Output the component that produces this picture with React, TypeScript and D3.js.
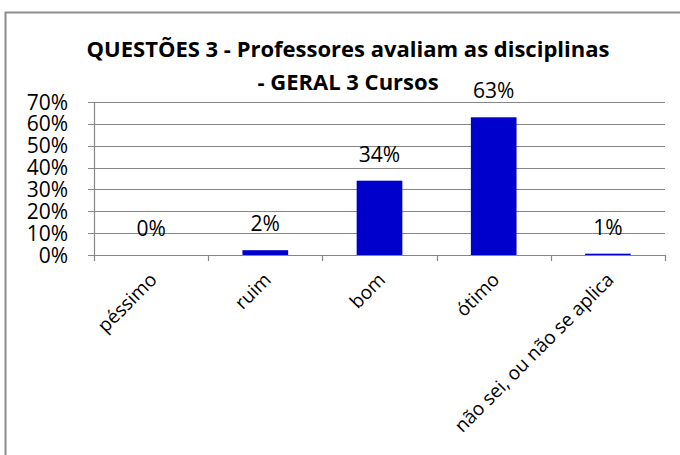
import React, { useEffect, useRef } from 'react';
import * as d3 from 'd3';

const categories = ['péssimo', 'ruim', 'bom', 'ótimo', 'não sei, ou não se aplica'];
const values = [0.0, 0.022, 0.34, 0.63, 0.006];
const yTicks = [0, 0.1, 0.2, 0.3, 0.4, 0.5, 0.6, 0.7];
const titleLines = ['QUESTÕES 3 - Professores avaliam as disciplinas', '- GERAL 3 Cursos'];

const App = () => {
  const ref = useRef<SVGSVGElement>(null);

  useEffect(() => {
    document.body.style.margin = '0';
    const svg = d3.select(ref.current);
    svg.selectAll('*').remove();

    const font = '"Open Sans", "Noto Sans", sans-serif';
    const left = 94, right = 665, top = 102, bottom = 255;

    const x = d3.scaleBand<string>().domain(categories).range([left, right]).padding(0);
    const y = d3.scaleLinear().domain([0, 0.7]).range([bottom, top]);
    const barW = x.step() * 0.4;

    // outer frame (runs off the right and bottom edges)
    svg.append('rect')
      .attr('x', 5.5).attr('y', 12.5)
      .attr('width', 720).attr('height', 500)
      .attr('fill', '#fff')
      .attr('stroke', '#8c8c8c')
      .attr('stroke-width', 2);

    // title
    svg.append('g')
      .selectAll('text')
      .data(titleLines)
      .join('text')
        .attr('x', 348)
        .attr('y', (d, i) => 57 + i * 33)
        .attr('text-anchor', 'middle')
        .style('font', `bold 22px ${font}`)
        .attr('fill', '#000')
        .text(d => d);

    // gridlines + y ticks
    svg.append('g')
      .selectAll('line')
      .data(yTicks)
      .join('line')
        .attr('x1', left - 6).attr('x2', right)
        .attr('y1', d => Math.round(y(d)) + 0.5)
        .attr('y2', d => Math.round(y(d)) + 0.5)
        .attr('stroke', '#868686')
        .attr('stroke-width', 1.2);

    svg.append('g')
      .selectAll('text')
      .data(yTicks)
      .join('text')
        .attr('x', 68)
        .attr('y', d => y(d))
        .attr('dy', '0.36em')
        .attr('text-anchor', 'end')
        .style('font', `21px ${font}`)
        .text(d => d3.format('.0%')(d));

    // y axis line
    svg.append('line')
      .attr('x1', left + 0.5).attr('x2', left + 0.5)
      .attr('y1', top).attr('y2', bottom + 1)
      .attr('stroke', '#868686')
      .attr('stroke-width', 1.2);

    // x ticks at category boundaries
    const bounds = categories.map(c => x(c) as number).concat([right]);
    svg.append('g')
      .selectAll('line')
      .data(bounds)
      .join('line')
        .attr('x1', d => Math.round(d) + 0.5).attr('x2', d => Math.round(d) + 0.5)
        .attr('y1', bottom).attr('y2', bottom + 6)
        .attr('stroke', '#868686')
        .attr('stroke-width', 1.2);

    // bars
    svg.append('g')
      .selectAll('rect')
      .data(values)
      .join('rect')
        .attr('x', (d, i) => (x(categories[i]) as number) + x.step() / 2 - barW / 2)
        .attr('y', d => y(d))
        .attr('width', barW)
        .attr('height', d => bottom - y(d))
        .attr('fill', '#0000cc');

    // value labels
    svg.append('g')
      .selectAll('text')
      .data(values)
      .join('text')
        .attr('x', (d, i) => (x(categories[i]) as number) + x.step() / 2)
        .attr('y', d => y(d) - 19)
        .attr('text-anchor', 'middle')
        .style('font', `21px ${font}`)
        .text(d => d3.format('.0%')(d));

    // rotated category labels
    svg.append('g')
      .selectAll('text')
      .data(categories)
      .join('text')
        .attr('text-anchor', 'end')
        .attr('transform', d => {
          const cx = (x(d) as number) + x.step() / 2 + 7;
          return `translate(${cx},${281}) rotate(-45)`;
        })
        .style('font', `19px ${font}`)
        .text(d => d);
  }, []);

  return <svg ref={ref} width={680} height={455} style={{ display: 'block' }}></svg>;
};

export default App;
